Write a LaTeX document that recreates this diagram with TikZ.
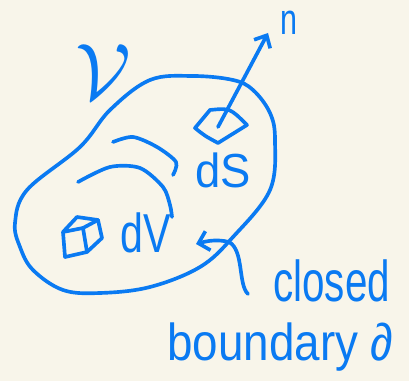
\RequirePackage{fix-cm}
\documentclass[tikz,border=0pt]{standalone}
\usepackage{fontspec}
\setmainfont{Liberation Sans}
\usetikzlibrary{arrows.meta, positioning, calc}
\definecolor{inkblue}{HTML}{0A7AF2}
\definecolor{paper}{HTML}{F8F5EA}

\begin{document}
\begin{tikzpicture}[x=0.025cm, y=-0.025cm,
    ink/.style={draw=inkblue, line width=2.6pt, line cap=round, line join=round},
    hand/.style={text=inkblue, inner sep=0pt, anchor=base west}]
        % paper
        \fill[paper] (0,0) rectangle (409,381);
        % volume outline
        \draw[ink] plot[smooth cycle, tension=0.6] coordinates {(27,190) (80,147) (110,110) (150,80) (193,76) (233,80) (253,90) (270,113) (275,140) (270,190) (233,237) (200,267) (150,287) (100,293) (63,290) (33,270) (20,247) (15,223)};
        % inner shading strokes
        \draw[ink] plot[smooth] coordinates {(113,142) (133,137) (157,147) (176,162) (173,175)};
        \draw[ink] plot[smooth] coordinates {(78,182) (110,167) (140,168) (163,187) (170,205) (172,217)};
        % surface patch dS
        \draw[ink] (195,128) -- (210,110) .. controls (230,108) .. (247,125) -- (218,143) .. controls (205,136) .. (195,128) -- cycle;
        % volume element dV
        \draw[ink] (63,232) -- (83,228) -- (87,252) -- (65,257) -- cycle;
        \draw[ink] (63,232) -- (77,217) -- (98,220) -- (83,228);
        \draw[ink] (98,220) -- (102,238) -- (87,252);
        % normal
        \coordinate (patch) at (218,127);
        \coordinate (ntip) at (268,33);
        \draw[ink, -{Straight Barb[length=7pt, width=13pt]}] (patch) -- (ntip);
        % pointer to the boundary
        \coordinate (tail) at (248,294);
        \coordinate (bnd) at (196,244);
        \draw[ink, -{Straight Barb[length=7pt, width=14pt]}] (tail) .. controls (238,285) and (244,250) .. (229,242) .. controls (217,239) and (207,241) .. (bnd);
        % labels
        \node[hand, font=\fontsize{57}{57}\selectfont] (vol) at (75,100) {$\mathcal{V}$};
        \node[hand, font=\fontsize{31}{31}\selectfont] (nlabel) at (280,35) {\scalebox{0.7}[1]{n}};
        \node[hand, font=\fontsize{34}{34}\selectfont] (dS) at (195,188) {\scalebox{0.95}[1]{dS}};
        \node[hand, font=\fontsize{39}{39}\selectfont] (dV) at (120,252) {\scalebox{0.75}[1]{dV}};
        \node[hand, font=\fontsize{41}{41}\selectfont] (closed) at (273,302) {\scalebox{0.7}[1]{closed}};
        \node[hand, font=\fontsize{37}{37}\selectfont] (boundary) at (167,360) {\scalebox{0.88}[1]{boundary ∂}};
    \end{tikzpicture}
\end{document}
